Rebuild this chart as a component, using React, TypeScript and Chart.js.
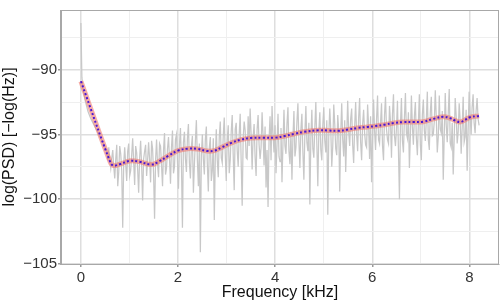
import React, { useEffect, useRef } from "react";
import { Chart, registerables } from "chart.js";

Chart.register(...registerables);

// Frequency bins of the raw periodogram (kHz): uniform spacing starting at 0
const FREQ_STEP_KHZ = 0.0205;

// Raw log-PSD (grey), one value per frequency bin
const rawPsd: number[] = [
  -86.4, -90.6, -91.4, -91.9, -92.3, -92.6, -92.9, -93.2, -93.4, -93.6,
  -93.8, -93.95, -94.1, -94.25, -94.4, -94.55, -94.7, -94.85, -95.0, -95.15,
  -95.3, -95.45, -95.6, -95.75, -95.9, -96.1, -96.3, -97.0, -96.0, -97.0,
  -97.6, -96.8, -96.2, -97.5, -98.4, -96.9, -95.8, -99.0, -97.9, -95.9,
  -96.5, -97.8, -102.2, -97.2, -96.0, -97.3, -98.6, -96.3, -95.7, -98.2,
  -97.8, -96.6, -95.3, -97.1, -98.9, -95.9, -96.4, -97.7, -99.5, -96.8,
  -95.5, -97.4, -100.1, -96.9, -96.3, -95.8, -98.2, -97.0, -95.6, -96.9,
  -98.7, -95.5, -96.1, -98.0, -101.5, -97.0, -95.4, -97.3, -98.3, -95.7,
  -95.9, -97.4, -99.0, -96.2, -94.9, -98.1, -97.6, -96.1, -95.2, -96.9,
  -98.8, -96.0, -94.7, -98.0, -97.5, -95.4, -95.0, -97.1, -99.2, -95.8,
  -94.5, -97.3, -102.2, -95.6, -94.8, -96.9, -97.9, -95.3, -94.2, -97.2,
  -98.4, -95.9, -95.1, -99.5, -97.3, -95.5, -93.9, -97.0, -99.0, -95.7,
  -104.1, -96.6, -95.0, -96.9, -98.1, -95.4, -94.4, -97.3, -99.4, -96.0,
  -95.2, -98.6, -97.8, -95.3, -101.6, -96.8, -94.6, -97.0, -98.3, -95.2,
  -94.0, -96.8, -97.2, -95.1, -93.7, -96.5, -98.6, -95.4, -94.3, -98.0,
  -97.0, -94.8, -93.5, -96.6, -99.3, -94.6, -94.1, -96.2, -97.5, -95.0,
  -93.4, -97.1, -100.5, -95.3, -94.0, -94.7, -96.8, -96.9, -93.6, -95.9,
  -93.0, -95.0, -97.7, -95.2, -94.2, -96.8, -98.2, -94.6, -93.5, -95.8,
  -96.9, -96.0, -93.3, -95.1, -97.4, -94.4, -99.1, -96.2, -100.6, -95.4,
  -93.6, -97.0, -92.8, -95.0, -96.4, -94.3, -98.0, -95.8, -93.4, -96.7,
  -97.1, -94.5, -98.7, -95.6, -93.1, -95.9, -96.5, -94.2, -92.9, -96.3,
  -97.3, -94.8, -98.5, -95.2, -93.2, -96.7, -96.0, -94.0, -92.6, -95.5,
  -97.6, -94.6, -93.4, -96.4, -98.5, -94.9, -92.8, -95.6, -96.3, -94.1,
  -100.4, -95.3, -93.1, -96.1, -96.8, -94.4, -92.5, -95.7, -99.0, -94.8,
  -93.3, -96.2, -97.0, -94.3, -92.9, -95.5, -96.4, -93.9, -101.2, -95.1,
  -93.0, -94.6, -97.5, -95.9, -92.7, -94.2, -96.1, -96.6, -93.5, -94.7,
  -99.4, -94.9, -92.6, -95.4, -96.7, -93.9, -97.9, -95.1, -92.4, -94.8,
  -95.9, -93.8, -93.0, -95.8, -97.2, -94.4, -92.5, -95.0, -96.3, -93.7,
  -92.2, -95.6, -97.0, -94.2, -93.1, -94.9, -95.8, -96.0, -92.7, -94.3,
  -96.9, -93.6, -98.7, -95.2, -92.3, -94.7, -96.2, -93.8, -92.0, -95.4,
  -95.7, -94.1, -92.6, -95.9, -97.0, -93.5, -92.1, -94.6, -95.4, -95.7,
  -92.8, -94.0, -96.8, -93.4, -91.9, -95.1, -95.9, -94.5, -92.4, -96.3,
  -100.0, -94.2, -92.2, -95.5, -96.4, -93.7, -91.8, -94.9, -95.3, -93.3,
  -97.6, -95.0, -92.0, -94.4, -95.8, -93.6, -92.5, -95.3, -96.6, -94.1,
  -91.9, -95.8, -97.0, -93.5, -92.3, -94.7, -95.5, -93.9, -91.7, -95.4,
  -96.2, -93.3, -92.1, -95.1, -95.0, -94.0, -91.6, -93.7, -96.4, -95.2,
  -92.0, -94.6, -94.9, -93.2, -98.5, -95.0, -91.8, -94.3, -95.6, -93.4,
  -91.5, -95.7, -96.0, -94.1, -98.1, -95.3, -92.2, -93.6, -95.7, -94.8,
  -92.6, -93.9, -96.5, -94.5, -92.1, -95.6, -95.2, -93.1, -97.8, -94.6,
  -91.7, -93.5, -95.0, -92.9, -91.9, -94.1, -94.9, -93.2, -92.2, -93.8,
  -94.3,
];

// Smoothed estimate (red band with blue dotted line)
const smoothFreq: number[] = [
  0, 0.6, 0.67, 0.8, 1.0, 1.2, 1.45, 1.6, 1.8, 2.0, 2.2, 2.4, 2.6, 2.75, 2.9,
  3.1, 3.3, 3.5, 3.75, 4.0, 4.2, 4.4, 4.6, 4.9, 5.1, 5.3, 5.5, 5.7, 5.9, 6.06,
  6.25, 6.45, 6.64, 6.85, 7.05, 7.26, 7.46, 7.6, 7.7, 7.81, 7.9, 8.01, 8.2,
];
const smoothPsd: number[] = [
  -90.9, -97.1, -97.4, -97.3, -97.05, -97.1, -97.33, -97.1, -96.66, -96.25,
  -96.1, -96.12, -96.28, -96.25, -96.0, -95.65, -95.4, -95.27, -95.25, -95.25,
  -95.12, -94.95, -94.8, -94.68, -94.7, -94.72, -94.62, -94.5, -94.42, -94.36,
  -94.25, -94.12, -94.05, -94.05, -94.02, -93.8, -93.64, -93.74, -93.92,
  -94.05, -93.9, -93.68, -93.57,
];

const xTickLabels = ["0", "2", "4", "6", "8"];
const yTickLabels = ["\u2212105", "\u2212100", "\u221295", "\u221290"];

const X_MIN = -0.41;
const X_MAX = 8.61;
const Y_MIN = -105;
const Y_MAX = -85.4;

const FONT = "'Liberation Sans', Arial, Helvetica, sans-serif";

const panelBorder = {
  id: "panelBorder",
  afterDraw(chart: any) {
    const { ctx, chartArea } = chart;
    ctx.save();
    ctx.strokeStyle = "#a8a8a8";
    ctx.lineWidth = 1;
    ctx.strokeRect(
      Math.round(chartArea.left) - 0.5,
      Math.round(chartArea.top) + 0.5,
      Math.round(chartArea.right - chartArea.left),
      Math.round(chartArea.bottom - chartArea.top)
    );
    ctx.restore();
  },
};

export default function App() {
  const ref = useRef<HTMLCanvasElement | null>(null);

  useEffect(() => {
    document.body.style.margin = "0";
    const canvas = ref.current;
    if (!canvas) return;

    const rawPoints = rawPsd.map((y, i) => ({ x: i * FREQ_STEP_KHZ, y }));
    const smoothPoints = smoothFreq.map((x, i) => ({ x, y: smoothPsd[i] }));

    const isMajorX = (v: number) =>
      Math.abs(v - Math.round(v)) < 1e-6 && xTickLabels.includes(String(Math.round(v)));
    const fmtY = (v: number) => (v < 0 ? "\u2212" + String(Math.abs(v)) : String(v));
    const isMajorY = (v: number) => yTickLabels.includes(fmtY(v));

    const chart = new Chart(canvas, {
      type: "line",
      data: {
        datasets: [
          {
            data: smoothPoints,
            borderColor: "#4a18d4",
            borderWidth: 2,
            borderDash: [2, 2.2],
            pointRadius: 0,
            tension: 0.4,
            order: 0,
          },
          {
            data: smoothPoints,
            borderColor: "rgba(240,120,110,0.6)",
            borderWidth: 5,
            pointRadius: 0,
            tension: 0.4,
            order: 1,
          },
          {
            data: rawPoints,
            borderColor: "#c8c8c8",
            borderWidth: 1.25,
            pointRadius: 0,
            tension: 0,
            order: 2,
          },
        ],
      },
      options: {
        animation: false,
        responsive: false,
        events: [],
        layout: { padding: { top: 0, right: 1, left: 0, bottom: 0 } },
        plugins: { legend: { display: false }, tooltip: { enabled: false } },
        scales: {
          x: {
            type: "linear",
            min: X_MIN,
            max: X_MAX,
            afterFit: (s: any) => {
              s.height = 40;
            },
            border: { display: true, color: "#a8a8a8", width: 1 },
            grid: {
              color: (c: any) => (c.tick && isMajorX(c.tick.value) ? "#dedede" : "#efefef"),
              lineWidth: (c: any) => (c.tick && isMajorX(c.tick.value) ? 1.5 : 1),
              tickColor: (c: any) => (c.tick && isMajorX(c.tick.value) ? "#999999" : "rgba(0,0,0,0)"),
              tickLength: 3,
              drawTicks: true,
            },
            ticks: {
              stepSize: 1,
              includeBounds: false,
              autoSkip: false,
              maxRotation: 0,
              padding: 2,
              color: "#333333",
              font: { family: FONT, size: 15 },
              callback: (v: any) => (isMajorX(Number(v)) ? String(Math.round(Number(v))) : ""),
            },
            title: {
              display: true,
              text: "Frequency [kHz]",
              color: "#111111",
              font: { family: FONT, size: 16 },
              padding: { top: 0, bottom: 2 },
            },
          },
          y: {
            type: "linear",
            min: Y_MIN,
            max: Y_MAX,
            afterFit: (s: any) => {
              s.width = 61;
            },
            border: { display: true, color: "#a8a8a8", width: 1 },
            grid: {
              color: (c: any) => (c.tick && isMajorY(c.tick.value) ? "#dedede" : "#efefef"),
              lineWidth: (c: any) => (c.tick && isMajorY(c.tick.value) ? 1.5 : 1),
              tickColor: (c: any) => (c.tick && isMajorY(c.tick.value) ? "#999999" : "rgba(0,0,0,0)"),
              tickLength: 3,
              drawTicks: true,
            },
            ticks: {
              stepSize: 2.5,
              includeBounds: false,
              autoSkip: false,
              padding: 1,
              color: "#333333",
              font: { family: FONT, size: 15 },
              callback: (v: any) => (isMajorY(Number(v)) ? fmtY(Number(v)) : ""),
            },
            title: {
              display: true,
              text: "log(PSD) [\u2212log(Hz)]",
              color: "#111111",
              font: { family: FONT, size: 16 },
              padding: { top: 0, bottom: 0 },
            },
          },
        },
      },
      plugins: [panelBorder],
    });

    return () => chart.destroy();
  }, []);

  return (
    <div style={{ width: 500, height: 304 }}>
      <canvas ref={ref} width={500} height={304} style={{ display: "block" }} />
    </div>
  );
}
